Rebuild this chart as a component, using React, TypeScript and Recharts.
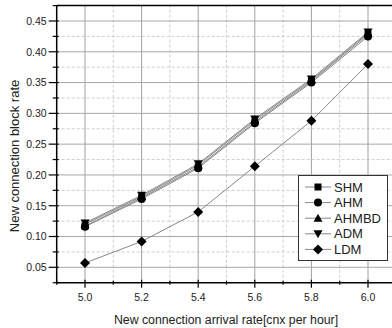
import { LineChart, Line, XAxis, YAxis, ReferenceLine, Legend } from 'recharts';

const rates = [5.0, 5.2, 5.4, 5.6, 5.8, 6.0];
const shm = [0.117, 0.163, 0.213, 0.286, 0.352, 0.428];
const ahm = [0.116, 0.161, 0.211, 0.284, 0.350, 0.425];
const ahmbd = [0.120, 0.165, 0.216, 0.289, 0.354, 0.430];
const adm = [0.122, 0.167, 0.218, 0.291, 0.356, 0.432];
const ldm = [0.057, 0.092, 0.140, 0.214, 0.288, 0.380];

const seriesNames = ['SHM', 'AHM', 'AHMBD', 'ADM', 'LDM'];
const seriesKeys = ['shm', 'ahm', 'ahmbd', 'adm', 'ldm'];
const markerShapes = ['square', 'circle', 'triangle', 'triangleDown', 'diamond'];

const xMajor = [5.0, 5.2, 5.4, 5.6, 5.8, 6.0];
const xMinor = [4.9, 5.1, 5.3, 5.5, 5.7, 5.9, 6.1];
const yMajor = [0.05, 0.1, 0.15, 0.2, 0.25, 0.3, 0.35, 0.4, 0.45];
const yMinor = [0.025, 0.075, 0.125, 0.175, 0.225, 0.275, 0.325, 0.375, 0.425, 0.475];

const data = rates.map((r, i) => ({
  rate: r,
  shm: shm[i],
  ahm: ahm[i],
  ahmbd: ahmbd[i],
  adm: adm[i],
  ldm: ldm[i],
}));

const isIn = (arr: number[], v: number) => arr.some((a) => Math.abs(a - v) < 1e-6);

function Marker({ cx, cy, shape }: { cx: number; cy: number; shape: string }) {
  if (shape === 'square') return <rect x={cx - 3.5} y={cy - 3.5} width={7} height={7} fill="#000" />;
  if (shape === 'circle') return <circle cx={cx} cy={cy} r={4} fill="#000" />;
  if (shape === 'triangle')
    return <polygon points={`${cx},${cy - 4.5} ${cx + 4.5},${cy + 3.5} ${cx - 4.5},${cy + 3.5}`} fill="#000" />;
  if (shape === 'triangleDown')
    return <polygon points={`${cx},${cy + 4.5} ${cx + 4.5},${cy - 3.5} ${cx - 4.5},${cy - 3.5}`} fill="#000" />;
  return <polygon points={`${cx},${cy - 5} ${cx + 5},${cy} ${cx},${cy + 5} ${cx - 5},${cy}`} fill="#000" />;
}

const XTick = (props: any) => {
  const { x, y, payload } = props;
  const major = isIn(xMajor, payload.value);
  return (
    <g>
      <line x1={x} x2={x} y1={y - (major ? 3 : 2)} y2={y + (major ? 5 : 2)} stroke="#000" strokeWidth={1.2} />
      {major && (
        <text x={x} y={y + 18} textAnchor="middle" fontSize={10.5} fill="#222">
          {payload.value.toFixed(1)}
        </text>
      )}
    </g>
  );
};

const YTick = (props: any) => {
  const { x, y, payload } = props;
  const major = isIn(yMajor, payload.value);
  return (
    <g>
      <line x1={x - (major ? 8 : 4)} x2={x + 2} y1={y} y2={y} stroke="#000" strokeWidth={1.2} />
      {major && (
        <text x={x - 10} y={y} dy="0.36em" textAnchor="end" fontSize={10.5} fill="#222">
          {payload.value.toFixed(2)}
        </text>
      )}
    </g>
  );
};

// axis titles placed where the reference has them; they ignore the props recharts passes in
const XTitle = () => (
  <text x={226} y={324} textAnchor="middle" fontSize={12.3} fill="#222">
    New connection arrival rate[cnx per hour]
  </text>
);

const YTitle = () => (
  <text x={18.5} y={156} textAnchor="middle" fontSize={13} fill="#222" transform="rotate(-90, 18.5, 156)">
    New connection block rate
  </text>
);

const renderLegend = () => (
  <svg width={90} height={86} style={{ display: 'block' }}>
    <rect x={0.5} y={0.5} width={89} height={85} fill="#fff" stroke="#333" strokeWidth={1} />
    {seriesNames.map((name, i) => {
      const cy = 12 + i * 15.6;
      return (
        <g key={name}>
          <line x1={7} x2={33} y1={cy} y2={cy} stroke="#888" strokeWidth={1} />
          <Marker cx={20} cy={cy} shape={markerShapes[i]} />
          <text x={36} y={cy} dy="0.36em" fontSize={13} fill="#222">
            {name}
          </text>
        </g>
      );
    })}
  </svg>
);

export default function App() {
  return (
    <div
      style={{
        position: 'absolute',
        left: 0,
        top: 0,
        width: 392,
        height: 328,
        overflow: 'hidden',
        background: '#fff',
        fontFamily: 'Arial, "Liberation Sans", sans-serif',
      }}
    >
      <LineChart width={400} height={328} data={data} margin={{ top: 5.6, right: 3.7, bottom: 0, left: 0 }}>
        {xMinor.slice(1).map((v) => (
          <ReferenceLine key={`xm${v}`} x={v} stroke="#cfcfcf" strokeDasharray="3 2" />
        ))}
        {yMinor.slice(1, -1).map((v) => (
          <ReferenceLine key={`ym${v}`} y={v} stroke="#cfcfcf" strokeDasharray="3 2" />
        ))}
        {xMajor.map((v) => (
          <ReferenceLine key={`xM${v}`} x={v} stroke="#a0a0a0" />
        ))}
        {yMajor.map((v) => (
          <ReferenceLine key={`yM${v}`} y={v} stroke="#a8a8a8" />
        ))}
        <ReferenceLine y={0.475} stroke="#000" strokeWidth={1.5} />
        <XAxis
          dataKey="rate"
          type="number"
          domain={[4.9, 6.1]}
          ticks={[...xMinor, ...xMajor].sort((a, b) => a - b)}
          interval={0}
          height={45.3}
          tickSize={0}
          tickMargin={0}
          tickLine={false}
          tick={<XTick />}
          axisLine={{ stroke: '#000', strokeWidth: 1.5 }}
          label={<XTitle />}
        />
        <YAxis
          type="number"
          domain={[0.025, 0.475]}
          ticks={[...yMinor, ...yMajor].sort((a, b) => a - b)}
          interval={0}
          width={56.7}
          tickSize={0}
          tickMargin={0}
          tickLine={false}
          tick={<YTick />}
          axisLine={{ stroke: '#000', strokeWidth: 1.5 }}
          label={<YTitle />}
        />
        {seriesKeys.map((k, i) => (
          <Line
            key={k}
            dataKey={k}
            name={seriesNames[i]}
            stroke="#888"
            strokeWidth={1}
            isAnimationActive={false}
            dot={(p: any) => <Marker key={`${k}-${p.index}`} cx={p.cx} cy={p.cy} shape={markerShapes[i]} />}
            activeDot={false}
          />
        ))}
        <Legend
          layout="vertical"
          align="center"
          verticalAlign="middle"
          content={renderLegend}
          wrapperStyle={{ position: 'absolute', left: 298, top: 175, width: 90, height: 86 }}
        />
      </LineChart>
    </div>
  );
}
